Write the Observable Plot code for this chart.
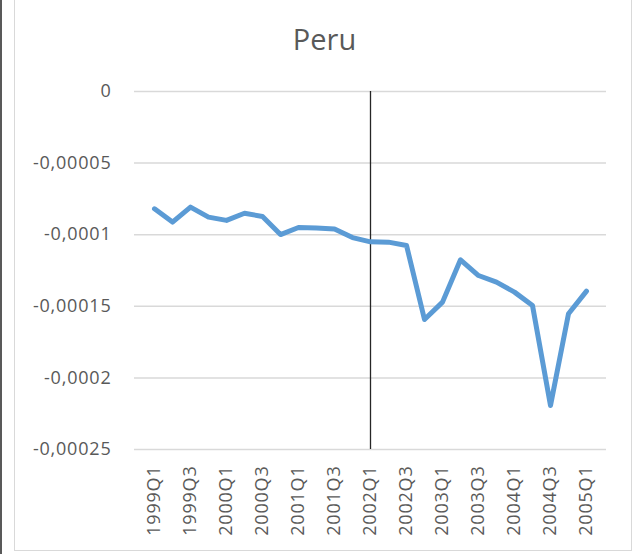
<!DOCTYPE html>
<html>
<head>
<meta charset="utf-8">
<script src="https://cdn.jsdelivr.net/npm/d3@7"></script>
<script src="https://cdn.jsdelivr.net/npm/@observablehq/plot@0.6"></script>
<style>
  html, body { margin: 0; padding: 0; background: #fff; }
  #wrap { position: relative; width: 637px; height: 554px; overflow: hidden; background: #fff; }
  #leftbar { position: absolute; left: 0; top: 0; width: 2px; height: 554px; background: #595959; }
  #frame { position: absolute; left: 14px; top: -2px; width: 618px; height: 553px; border: 1.5px solid #D9D9D9; box-sizing: border-box; }
  #title { position: absolute; left: 0; width: 637px; top: 17px; text-align: center; padding-left: 12px; box-sizing: border-box;
           font-family: "Open Sans", sans-serif; font-size: 29px; color: #595959; line-height: 44px; }
  #chart { position: absolute; left: 0; top: 0; }
</style>
</head>
<body>
<div id="wrap">
  <div id="leftbar"></div>
  <div id="frame"></div>
  <div id="chart"></div>
  <div id="title">Peru</div>
</div>
<script>
const chartTitle = "Peru";
const quarters = [
  "1999Q1","1999Q2","1999Q3","1999Q4",
  "2000Q1","2000Q2","2000Q3","2000Q4",
  "2001Q1","2001Q2","2001Q3","2001Q4",
  "2002Q1","2002Q2","2002Q3","2002Q4",
  "2003Q1","2003Q2","2003Q3","2003Q4",
  "2004Q1","2004Q2","2004Q3","2004Q4",
  "2005Q1"
];
const values = [
  -0.0000819, -0.0000912, -0.0000807, -0.0000877,
  -0.0000900, -0.0000850, -0.0000873, -0.0000999,
  -0.0000950, -0.0000954, -0.0000960, -0.0001020,
  -0.0001050, -0.0001052, -0.0001075, -0.0001592,
  -0.0001471, -0.0001175, -0.0001285, -0.0001331,
  -0.0001401, -0.0001494, -0.0002193, -0.0001552,
  -0.0001394
];
const yTicks = [0, -0.00005, -0.0001, -0.00015, -0.0002, -0.00025];
const xTickLabels = quarters.filter((d, i) => i % 2 === 0);
const markerQuarter = "2002Q1";

const data = quarters.map((q, i) => ({q, v: values[i]}));
const fmt = d => d === 0 ? "0" : String(d).replace(".", ",");

const plot = Plot.plot({
  width: 637,
  height: 554,
  marginLeft: 134,
  marginRight: 31,
  marginTop: 91,
  marginBottom: 105,
  style: {fontFamily: "Open Sans, sans-serif", fontSize: "18px", color: "#595959", background: "transparent", letterSpacing: "0.8px"},
  x: {type: "point", domain: quarters, range: [142, 597], padding: 0},
  y: {domain: [-0.00025, 0]},
  marks: [
    Plot.ruleY(yTicks, {stroke: "#D9D9D9", strokeWidth: 1.5}),
    Plot.axisY({ticks: yTicks, tickFormat: fmt, tickSize: 0, tickPadding: 23, label: null, fill: "#595959"}),
    Plot.axisX({ticks: xTickLabels, tickRotate: -90, tickSize: 0, tickPadding: 16, label: null, fill: "#595959"}),
    Plot.ruleX([markerQuarter], {stroke: "#262626", strokeWidth: 1.3}),
    Plot.line(data, {x: "q", y: "v", stroke: "#5B9BD5", strokeWidth: 5, strokeLinejoin: "round", strokeLinecap: "round"})
  ]
});
document.getElementById("title").textContent = chartTitle;
document.getElementById("chart").appendChild(plot);
</script>
</body>
</html>
